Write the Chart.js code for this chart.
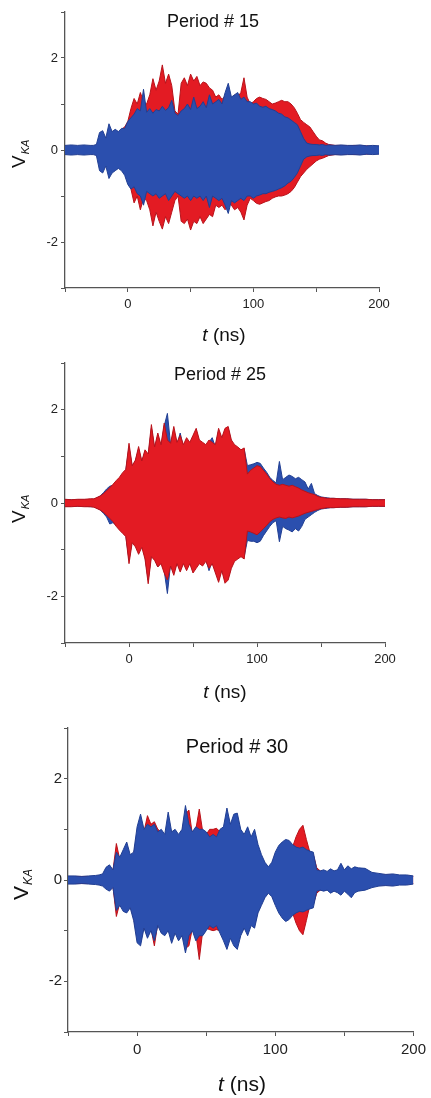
<!DOCTYPE html>
<html>
<head>
<meta charset="utf-8">
<script src="https://cdn.jsdelivr.net/npm/chart.js@4.4.1/dist/chart.umd.min.js"></script>
<style>
  html, body { margin: 0; padding: 0; background: #fff; }
  body { width: 431px; height: 1098px; position: relative; overflow: hidden; }
  canvas { position: absolute; left: 0; }
</style>
</head>
<body>
<canvas id="p15" width="431" height="350" style="top:0px"></canvas>
<canvas id="p25" width="431" height="355" style="top:350px"></canvas>
<canvas id="p30" width="431" height="393" style="top:705px"></canvas>
<script>
// time grid (ns), shared by the three panels
const t = [
  -50, -45, -40, -35, -30,
  -27.5, -25, -22.5, -20, -17.5, -15, -12.5, -10, -7.5, -5,
  -2.5, 0, 2.5, 5, 7.5, 10, 12.5, 15, 17.5, 20,
  22.5, 25, 27.5, 30, 32.5, 35, 37.5, 40, 42.5, 45,
  47.5, 50, 52.5, 55, 57.5, 60, 62.5, 65, 67.5, 70,
  72.5, 75, 77.5, 80, 82.5, 85, 87.5, 90, 92.5, 95,
  97.5, 100, 102.5, 105, 107.5, 110, 112.5, 115, 117.5, 120,
  122.5, 125, 127.5, 130, 132.5, 135, 137.5, 140, 142.5, 145,
  147.5, 150, 152.5, 155, 157.5, 160,
  165, 170, 175, 180, 185, 190, 195, 200
];

// Period # 15 : envelope of V_KA (upper / lower)
const blue15Hi = [
  0.1, 0.11, 0.1, 0.11, 0.1,
  0.1, 0.12, 0.38, 0.42, 0.26, 0.57, 0.4, 0.45, 0.4, 0.47,
  0.47, 0.62, 0.7, 0.78, 0.9, 0.85, 1.32, 0.82, 0.9, 0.8,
  0.88, 0.85, 0.95, 0.86, 0.92, 1.08, 0.8, 0.75, 0.85, 0.9,
  1.0, 0.88, 1.15, 0.9, 0.95, 1.05, 0.92, 1.2, 1.0, 1.05,
  1.1, 1.0, 1.25, 1.45, 1.15, 1.2, 1.25, 1.1, 1.15, 1.05,
  1.05, 1.0, 1.02, 0.95, 0.93, 0.95, 0.9, 0.88, 0.85, 0.8,
  0.78, 0.72, 0.7, 0.65, 0.6, 0.55, 0.4, 0.25, 0.15, 0.13,
  0.12, 0.12, 0.11, 0.12, 0.1, 0.11,
  0.1, 0.11, 0.1, 0.1, 0.11, 0.09, 0.1, 0.09
];
const blue15Lo = [
  -0.1, -0.11, -0.1, -0.11, -0.1,
  -0.1, -0.12, -0.45, -0.5, -0.35, -0.62, -0.5, -0.45, -0.4, -0.45,
  -0.55, -0.75, -0.85, -0.8, -0.95, -1.0, -1.2, -0.9, -0.95, -1.0,
  -0.95, -1.05, -1.0, -0.95, -1.1, -1.0, -0.9, -0.95, -1.0, -1.05,
  -1.0, -1.1, -1.0, -1.05, -1.0, -1.1, -1.0, -1.25, -1.0, -1.05,
  -1.1, -1.05, -1.2, -1.38, -1.1, -1.15, -1.1, -1.05, -1.1, -1.0,
  -1.0, -1.05, -1.0, -0.98, -0.95, -0.95, -0.92, -0.9, -0.88, -0.85,
  -0.82, -0.78, -0.72, -0.68, -0.6, -0.5, -0.35, -0.2, -0.15, -0.13,
  -0.12, -0.12, -0.11, -0.12, -0.1, -0.11,
  -0.1, -0.11, -0.1, -0.1, -0.11, -0.09, -0.1, -0.09
];
const red15Hi = [
  0.08, 0.08, 0.08, 0.08, 0.08,
  0.08, 0.1, 0.2, 0.3, 0.22, 0.35, 0.35, 0.4, 0.38, 0.45,
  0.5, 0.62, 0.9, 1.12, 1.0, 1.25, 1.05, 1.0, 1.2, 1.55,
  1.3, 1.5, 1.85, 1.45, 1.65, 1.4, 0.85, 0.78, 1.45, 1.57,
  1.4, 1.65, 1.5, 1.6, 1.4, 1.48, 1.45, 1.35, 1.3, 1.15,
  1.2, 1.1, 1.18, 1.15, 1.1, 1.2, 1.15, 1.25, 1.57, 1.15,
  1.0, 1.05, 1.12, 1.15, 1.12, 1.1, 1.05, 1.0, 1.02, 1.05,
  1.08, 1.05, 1.05, 1.0, 0.92, 0.8, 0.66, 0.6, 0.55, 0.5,
  0.4, 0.3, 0.22, 0.2, 0.15, 0.12,
  0.1, 0.1, 0.09, 0.1, 0.09, 0.09, 0.08, 0.08
];
const red15Lo = [
  -0.08, -0.08, -0.08, -0.08, -0.08,
  -0.08, -0.1, -0.2, -0.3, -0.22, -0.35, -0.35, -0.4, -0.38, -0.42,
  -0.5, -0.62, -0.85, -1.15, -1.0, -1.3, -1.05, -1.1, -1.3, -1.65,
  -1.35, -1.55, -1.72, -1.45, -1.6, -1.35, -1.1, -1.0, -1.55, -1.6,
  -1.5, -1.74, -1.55, -1.6, -1.45, -1.6, -1.5, -1.4, -1.45, -1.2,
  -1.25, -1.2, -1.3, -1.15, -1.2, -1.3, -1.25, -1.35, -1.52, -1.2,
  -1.05, -1.1, -1.16, -1.18, -1.15, -1.12, -1.1, -1.05, -1.02, -1.0,
  -1.0, -0.98, -0.95, -0.9, -0.82, -0.7, -0.58, -0.5, -0.42, -0.36,
  -0.3, -0.24, -0.2, -0.18, -0.15, -0.12,
  -0.1, -0.1, -0.09, -0.1, -0.09, -0.09, -0.08, -0.08
];

// Period # 25
const red25Hi = [
  0.08, 0.07, 0.08, 0.08, 0.09,
  0.09, 0.12, 0.15, 0.2, 0.26, 0.33, 0.4, 0.48, 0.55, 0.65,
  0.72, 1.28, 0.8, 0.92, 1.21, 0.9, 1.14, 1.05, 1.68, 1.2,
  1.5, 1.25, 1.71, 1.35, 1.28, 1.64, 1.3, 1.45, 1.25, 1.4,
  1.3, 1.45, 1.6, 1.35, 1.3, 1.25, 1.35, 1.3, 1.25, 1.6,
  1.4, 1.6, 1.64, 1.35, 1.25, 1.2, 1.14, 1.18, 0.62, 0.7,
  0.75, 0.8, 0.78, 0.7, 0.62, 0.52, 0.45, 0.4, 0.38, 0.4,
  0.38, 0.36, 0.38, 0.35, 0.32, 0.28, 0.25, 0.22, 0.2, 0.18,
  0.14, 0.12, 0.11, 0.1, 0.1, 0.1,
  0.09, 0.09, 0.08, 0.08, 0.08, 0.07, 0.07, 0.07
];
const red25Lo = [
  -0.08, -0.08, -0.07, -0.08, -0.08,
  -0.09, -0.12, -0.15, -0.2, -0.26, -0.33, -0.4, -0.5, -0.58, -0.65,
  -0.72, -1.3, -0.85, -0.94, -1.1, -0.95, -1.2, -1.73, -1.15, -1.23,
  -1.37, -1.3, -1.5, -1.65, -1.35, -1.55, -1.3, -1.48, -1.3, -1.45,
  -1.3, -1.5, -1.4, -1.3, -1.35, -1.25, -1.4, -1.3, -1.5, -1.7,
  -1.45, -1.72, -1.65, -1.4, -1.25, -1.2, -1.15, -1.2, -0.6, -0.62,
  -0.65, -0.68, -0.62, -0.55, -0.48, -0.4, -0.35, -0.32, -0.3, -0.32,
  -0.33, -0.3, -0.32, -0.3, -0.28, -0.25, -0.22, -0.2, -0.18, -0.16,
  -0.14, -0.12, -0.11, -0.1, -0.1, -0.1,
  -0.09, -0.09, -0.08, -0.08, -0.08, -0.07, -0.07, -0.07
];
const blue25Hi = [
  0.07, 0.07, 0.07, 0.07, 0.08,
  0.08, 0.11, 0.15, 0.22, 0.3, 0.36, 0.38, 0.45, 0.52, 0.6,
  0.7, 1.2, 0.78, 0.9, 1.15, 0.88, 1.1, 1.0, 1.6, 1.15,
  1.45, 1.2, 1.65, 1.92, 1.25, 1.55, 1.25, 1.5, 1.2, 1.35,
  1.25, 1.4, 1.55, 1.3, 1.25, 1.2, 1.3, 1.4, 1.2, 1.55,
  1.35, 1.55, 1.6, 1.3, 1.2, 1.15, 1.1, 1.15, 0.8, 0.82,
  0.84, 0.87, 0.85, 0.75, 0.66, 0.55, 0.48, 0.43, 0.89, 0.5,
  0.55, 0.6, 0.57, 0.52, 0.55, 0.5, 0.45, 0.3, 0.42, 0.2,
  0.16, 0.13, 0.12, 0.11, 0.1, 0.1,
  0.09, 0.09, 0.08, 0.08, 0.08, 0.07, 0.07, 0.07
];
const blue25Lo = [
  -0.07, -0.07, -0.07, -0.07, -0.08,
  -0.08, -0.11, -0.15, -0.22, -0.3, -0.45, -0.42, -0.48, -0.55, -0.62,
  -0.7, -1.22, -0.8, -0.9, -1.05, -0.9, -1.15, -1.65, -1.1, -1.2,
  -1.37, -1.25, -1.45, -1.94, -1.3, -1.5, -1.25, -1.45, -1.25, -1.4,
  -1.25, -1.45, -1.35, -1.25, -1.3, -1.2, -1.45, -1.25, -1.45, -1.65,
  -1.4, -1.65, -1.6, -1.35, -1.2, -1.15, -1.1, -1.15, -0.8, -0.82,
  -0.82, -0.85, -0.82, -0.7, -0.6, -0.5, -0.42, -0.38, -0.83, -0.5,
  -0.55, -0.58, -0.62, -0.55, -0.6, -0.5, -0.35, -0.3, -0.25, -0.2,
  -0.16, -0.13, -0.12, -0.11, -0.1, -0.1,
  -0.09, -0.09, -0.08, -0.08, -0.08, -0.07, -0.07, -0.07
];

// Period # 30
const blue30Hi = [
  0.08, 0.08, 0.07, 0.08, 0.09,
  0.1, 0.12, 0.25, 0.3, 0.2, 0.55, 0.45, 0.6, 0.75, 0.5,
  0.55, 1.05, 1.3, 1.0, 1.1, 1.05, 1.1, 0.95, 1.0, 0.9,
  1.34, 0.95, 1.0, 0.9, 1.0, 1.47, 1.1, 0.95, 1.05, 1.0,
  1.0, 0.95, 0.85, 0.9, 0.85, 1.0, 1.05, 1.42, 1.1, 1.3,
  1.32, 1.0, 0.9, 1.05, 0.85, 1.0, 0.7, 0.5, 0.35, 0.26,
  0.35, 0.55, 0.68, 0.75, 0.8, 0.78, 0.7, 0.65, 0.63, 0.65,
  0.6, 0.57, 0.55, 0.2, 0.18, 0.2, 0.17, 0.22, 0.18, 0.2,
  0.33, 0.2, 0.28, 0.22, 0.26, 0.24,
  0.23, 0.15, 0.13, 0.11, 0.12, 0.1, 0.1, 0.08
];
const blue30Lo = [
  -0.08, -0.08, -0.07, -0.08, -0.09,
  -0.1, -0.12, -0.18, -0.22, -0.15, -0.6, -0.5, -0.62, -0.65, -0.55,
  -0.8, -1.24, -1.3, -0.95, -1.15, -1.0, -1.2, -0.9, -1.05, -1.1,
  -1.0, -1.25, -1.05, -1.2, -1.1, -1.44, -1.1, -1.0, -1.2, -1.1,
  -1.1, -1.0, -0.9, -0.95, -0.9, -1.05, -1.2, -1.37, -1.15, -1.3,
  -1.37, -1.1, -0.95, -1.1, -0.9, -0.95, -0.65, -0.5, -0.35, -0.26,
  -0.33, -0.5, -0.65, -0.75, -0.82, -0.78, -0.7, -0.65, -0.62, -0.63,
  -0.6, -0.57, -0.55, -0.22, -0.2, -0.22, -0.2, -0.26, -0.22, -0.25,
  -0.3, -0.22, -0.28, -0.35, -0.25, -0.22,
  -0.2, -0.15, -0.12, -0.11, -0.12, -0.1, -0.1, -0.08
];
const red30Hi = [
  0.07, 0.07, 0.07, 0.07, 0.07,
  0.08, 0.1, 0.2, 0.25, 0.18, 0.72, 0.4, 0.5, 0.6, 0.45,
  0.5, 0.9, 1.1, 0.95, 1.27, 1.1, 1.15, 1.0, 0.95, 0.85,
  1.1, 0.9, 0.95, 0.85, 0.95, 1.3, 1.38, 0.9, 1.0, 1.4,
  0.95, 0.9, 1.0, 1.0, 1.02, 0.95, 1.0, 1.2, 1.05, 1.2,
  1.15, 0.9, 0.85, 0.95, 0.8, 0.9, 0.6, 0.45, 0.3, 0.22,
  0.3, 0.5, 0.62, 0.7, 0.72, 0.7, 0.65, 0.85, 1.0, 1.08,
  0.8, 0.55, 0.5, 0.24, 0.18, 0.15, 0.15, 0.18, 0.15, 0.15,
  0.2, 0.15, 0.18, 0.16, 0.2, 0.18,
  0.15, 0.12, 0.1, 0.1, 0.1, 0.08, 0.08, 0.07
];
const red30Lo = [
  -0.07, -0.07, -0.07, -0.07, -0.07,
  -0.08, -0.1, -0.15, -0.2, -0.12, -0.72, -0.45, -0.55, -0.6, -0.5,
  -0.75, -1.1, -1.2, -0.9, -1.1, -0.95, -1.3, -0.85, -1.0, -1.0,
  -0.95, -1.1, -1.0, -1.1, -1.0, -1.35, -1.3, -0.95, -1.05, -1.57,
  -1.0, -0.95, -0.98, -1.0, -0.98, -1.0, -1.1, -1.25, -1.05, -1.2,
  -1.25, -1.0, -0.9, -1.0, -0.85, -0.88, -0.6, -0.45, -0.3, -0.22,
  -0.3, -0.45, -0.6, -0.7, -0.75, -0.72, -0.65, -0.85, -1.0, -1.08,
  -0.8, -0.5, -0.48, -0.26, -0.2, -0.2, -0.18, -0.2, -0.18, -0.2,
  -0.22, -0.18, -0.2, -0.25, -0.2, -0.18,
  -0.15, -0.12, -0.1, -0.1, -0.1, -0.08, -0.08, -0.07
];

const FONT = '"Liberation Sans", Arial, Helvetica, sans-serif';
const RED = '#e31b23', RED_EDGE = '#b8121a';
const BLUE = '#2b4fae', BLUE_EDGE = '#213f93';
const AXIS = '#555';

function pts(vals) {
  return t.map((x, i) => ({ x, y: vals[i] }));
}

// upper line + lower line filled up to the upper one
function band(hi, lo, color, edge, hiIndex) {
  return [
    { data: pts(hi), borderColor: edge, borderWidth: 1, fill: false },
    { data: pts(lo), borderColor: edge, borderWidth: 1, backgroundColor: color, fill: hiIndex },
  ];
}

// title, t (ns), V_KA
const labels = {
  id: 'labels',
  afterDraw(chart, args, o) {
    const c = chart.ctx;
    c.save();
    c.fillStyle = '#111';
    c.textBaseline = 'alphabetic';
    c.textAlign = 'center';
    c.font = `${o.titleSize}px ${FONT}`;
    c.fillText(o.title, o.titleX, o.titleY);

    const it = `italic ${o.xSize}px ${FONT}`, rg = `${o.xSize}px ${FONT}`;
    c.font = it; const w1 = c.measureText('t').width;
    c.font = rg; const w2 = c.measureText(' (ns)').width;
    const x0 = o.xX - (w1 + w2) / 2;
    c.textAlign = 'left';
    c.font = it; c.fillText('t', x0, o.xY);
    c.font = rg; c.fillText(' (ns)', x0 + w1, o.xY);

    c.translate(o.vX, o.vY);
    c.rotate(-Math.PI / 2);
    c.font = `${o.vSize}px ${FONT}`;
    c.fillText('V', 0, 0);
    const wv = c.measureText('V').width;
    c.font = `italic ${o.subSize}px ${FONT}`;
    c.fillText('KA', wv + 1, o.subDy);
    c.restore();
  }
};

function makeChart(id, datasets, g) {
  const cv = document.getElementById(id);
  const W = cv.width, H = cv.height;
  const grid = { drawOnChartArea: false, drawTicks: true, tickLength: 4, color: AXIS, lineWidth: 1 };
  const border = { display: true, color: AXIS, width: 1.3 };
  const tickFont = { family: FONT, size: g.tickSize };
  return new Chart(cv, {
    type: 'line',
    data: { datasets },
    options: {
      responsive: false,
      animation: false,
      devicePixelRatio: 1,
      layout: { padding: { left: 0, top: g.top, right: W - g.right, bottom: 0 } },
      elements: { point: { radius: 0 }, line: { tension: 0 } },
      plugins: { legend: { display: false }, tooltip: { enabled: false }, labels: g.text },
      scales: {
        x: {
          type: 'linear', min: -50, max: 200,
          afterFit: s => { s.height = H - g.bottom; },
          grid, border,
          ticks: { stepSize: 50, autoSkip: false, maxRotation: 0, padding: g.xPad, color: '#222', font: tickFont,
                   callback: v => (v % 100 === 0 ? v : '') }
        },
        y: {
          type: 'linear', min: -3, max: 3,
          afterFit: s => { s.width = g.left; },
          grid, border,
          ticks: { stepSize: 1, autoSkip: false, padding: g.yPad, color: '#222', font: tickFont,
                   callback: v => (v % 2 === 0 ? v : '') }
        }
      }
    },
    plugins: [labels]
  });
}

makeChart('p15', [...band(blue15Hi, blue15Lo, BLUE, BLUE_EDGE, 0), ...band(red15Hi, red15Lo, RED, RED_EDGE, 2)], {
  left: 65, right: 379, top: 12, bottom: 288, tickSize: 13, xPad: 5, yPad: 3,
  text: { title: 'Period # 15', titleSize: 18, titleX: 213, titleY: 27,
          xSize: 19, xX: 224, xY: 341, vX: 25, vY: 168, vSize: 19, subSize: 11, subDy: 4 }
});

makeChart('p25', [...band(red25Hi, red25Lo, RED, RED_EDGE, 0), ...band(blue25Hi, blue25Lo, BLUE, BLUE_EDGE, 2)], {
  left: 65, right: 385, top: 13, bottom: 293, tickSize: 13, xPad: 5, yPad: 3,
  text: { title: 'Period # 25', titleSize: 18, titleX: 220, titleY: 30,
          xSize: 19, xX: 225, xY: 348, vX: 25, vY: 173, vSize: 19, subSize: 11, subDy: 4 }
});

makeChart('p30', [...band(blue30Hi, blue30Lo, BLUE, BLUE_EDGE, 0), ...band(red30Hi, red30Lo, RED, RED_EDGE, 2)], {
  left: 68, right: 417, top: 23, bottom: 327, tickSize: 15, xPad: 5, yPad: 2,
  text: { title: 'Period # 30', titleSize: 20, titleX: 237, titleY: 48,
          xSize: 21, xX: 242, xY: 386, vX: 28, vY: 195, vSize: 21, subSize: 12, subDy: 4 }
});
</script>
</body>
</html>
